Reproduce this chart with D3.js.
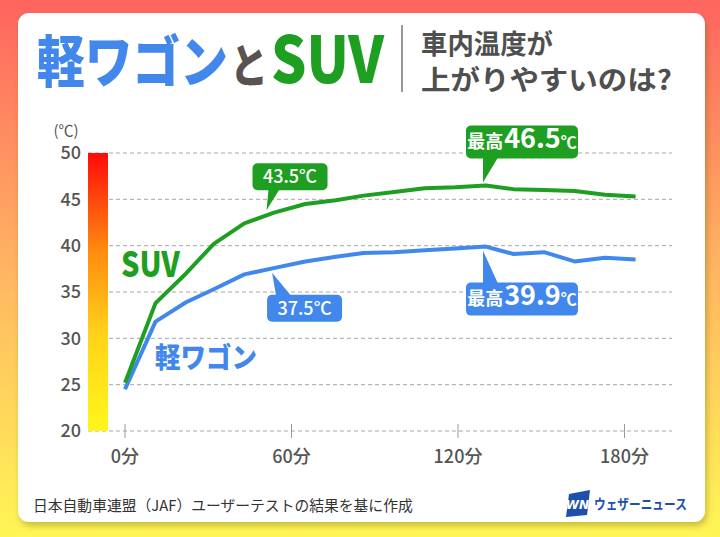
<!DOCTYPE html>
<html><head><meta charset="utf-8">
<script src="https://cdn.jsdelivr.net/npm/d3@7"></script>
<style>
html,body{margin:0;padding:0;}
svg{display:block;font-family:"Noto Sans CJK JP","Noto Sans",sans-serif;}
</style></head>
<body>
<svg id="chart" width="720" height="537"></svg>
<script>
// ---- data ----
const times = [0, 11, 22, 32, 43, 54, 65, 76, 86, 97, 108, 119, 130, 140, 151, 162, 173, 184];
const suv   = [25.2, 33.8, 37.0, 40.2, 42.4, 43.6, 44.5, 44.9, 45.4, 45.8, 46.2, 46.3, 46.5, 46.1, 46.0, 45.9, 45.5, 45.3];
const kei   = [24.5, 31.8, 33.9, 35.3, 36.9, 37.6, 38.3, 38.8, 39.2, 39.3, 39.5, 39.7, 39.9, 39.1, 39.3, 38.3, 38.7, 38.5];
const yTicks = [20, 25, 30, 35, 40, 45, 50];
const xTicks = [0, 60, 120, 180];
const xTickLabels = ["0分", "60分", "120分", "180分"];
const seriesNames = ["SUV", "軽ワゴン"];
const annotations = [
  {series: "suv", t: 51, v: 43.5, pre: "", num: "43.5℃", max: false},
  {series: "suv", t: 129, v: 46.5, pre: "最高", num: "46.5", max: true},
  {series: "kei", t: 53, v: 37.5, pre: "", num: "37.5℃", max: false},
  {series: "kei", t: 129, v: 39.9, pre: "最高", num: "39.9", max: true}
];

const GREEN = "#1f9f21", BLUE = "#4288ec", GRAY = "#4f4f4f";

const svg = d3.select("#chart");
const defs = svg.append("defs");

// background gradient
const bg = defs.append("linearGradient").attr("id","bg").attr("x1",0).attr("y1",0).attr("x2",0).attr("y2",1);
bg.append("stop").attr("offset","0%").attr("stop-color","#ff645f");
bg.append("stop").attr("offset","50%").attr("stop-color","#ffb562");
bg.append("stop").attr("offset","100%").attr("stop-color","#fff655");
svg.append("rect").attr("width",720).attr("height",537).attr("fill","url(#bg)");

// card shadow
const f = defs.append("filter").attr("id","sh").attr("x","-5%").attr("y","-5%").attr("width","110%").attr("height","115%");
f.append("feDropShadow").attr("dx",2).attr("dy",4).attr("stdDeviation",3).attr("flood-color","#6b5a00").attr("flood-opacity",0.35);
svg.append("rect").attr("x",18).attr("y",13).attr("width",687).attr("height",509).attr("rx",11)
  .attr("fill","#fff").attr("filter","url(#sh)");

// text fitted horizontally with a scale transform
function fitText(x, y, txt, size, len, fill, weight) {
  const t = svg.append("text").attr("x",0).attr("y",0).text(txt)
    .attr("font-size",size).attr("font-weight",weight||700).attr("fill",fill);
  const w = t.node().getComputedTextLength() || len;
  t.attr("transform",`translate(${x},${y}) scale(${len / w},1)`);
  return t;
}
fitText(37, 82, "軽ワゴン", 56, 191, BLUE, 900);
fitText(230, 82, "と", 46, 38, "#5a5250", 900);
fitText(271, 83, "SUV", 65, 113, GREEN, 900);
svg.append("line").attr("x1",402).attr("x2",402).attr("y1",25).attr("y2",92).attr("stroke","#777").attr("stroke-width",1.5);
fitText(421, 54, "車内温度が", 27, 132, GRAY, 700);
fitText(421, 90, "上がりやすいのは?", 27, 251, GRAY, 700);

// scales
const x = d3.scaleLinear().domain([0,180]).range([125, 624.5]);
const y = d3.scaleLinear().domain([20,50]).range([431, 153]);

// color bar
const cb = defs.append("linearGradient").attr("id","cb").attr("x1",0).attr("y1",0).attr("x2",0).attr("y2",1);
cb.append("stop").attr("offset","0%").attr("stop-color","#ff0a0a");
cb.append("stop").attr("offset","35%").attr("stop-color","#ff8a10");
cb.append("stop").attr("offset","65%").attr("stop-color","#ffd21a");
cb.append("stop").attr("offset","100%").attr("stop-color","#fff61a");

// grid
svg.append("g").selectAll("line").data(yTicks).join("line")
  .attr("x1",88).attr("x2",672).attr("y1",d=>y(d)).attr("y2",d=>y(d))
  .attr("stroke","#a8a8a8").attr("stroke-width",1).attr("stroke-dasharray","4,3");

svg.append("rect").attr("x",88).attr("y",y(50)).attr("width",20).attr("height",y(20)-y(50)).attr("fill","url(#cb)");

// y labels
svg.append("g").selectAll("text").data(yTicks).join("text")
  .attr("x",81).attr("y",d=>y(d)).attr("dy","0.36em").attr("text-anchor","end")
  .attr("font-size",18).attr("font-weight",500).attr("fill","#555").text(d=>d);
svg.append("text").attr("x",66).attr("y",136).attr("text-anchor","middle").attr("font-size",15).attr("fill","#555").text("(℃)");

// x ticks
svg.append("g").selectAll("line").data(xTicks).join("line")
  .attr("x1",d=>x(d)).attr("x2",d=>x(d)).attr("y1",424).attr("y2",438)
  .attr("stroke","#999").attr("stroke-width",1);
svg.append("g").selectAll("text").data(xTicks).join("text")
  .attr("x",d=>x(d)).attr("y",463).attr("text-anchor","middle")
  .attr("font-size",18).attr("font-weight",500).attr("fill","#555").text((d,i)=>xTickLabels[i]);

// lines
const line = d3.line().x(d=>x(d[0])).y(d=>y(d[1]));
svg.append("path").datum(times.map((t,i)=>[t,kei[i]])).attr("d",line)
  .attr("fill","none").attr("stroke",BLUE).attr("stroke-width",4).attr("stroke-linejoin","round");
svg.append("path").datum(times.map((t,i)=>[t,suv[i]])).attr("d",line)
  .attr("fill","none").attr("stroke",GREEN).attr("stroke-width",4).attr("stroke-linejoin","round");

// series labels
fitText(121, 277, seriesNames[0], 35, 59, GREEN, 900);
fitText(155, 368, seriesNames[1], 28, 102, BLUE, 900);

// callouts
annotations.forEach(a => {
  const col = a.series === "suv" ? GREEN : BLUE;
  const above = a.series === "suv";
  const tx = x(a.t), ty = y(a.v) + (above ? -3 : 4);
  let bw, bh, bx, by, base;
  if (a.max) {
    bw = 112; bh = 33; bx = tx - 17;
    by = above ? ty - 24 - bh : ty + 32;
    base = [tx, tx + 15];
  } else {
    bw = 75; bh = 27;
    if (above) { bx = tx - 14; by = ty - 20 - bh; base = [tx + 2, tx + 13]; }
    else { bx = tx - 5; by = ty + 22; base = [tx + 4, tx + 19]; }
  }
  const g = svg.append("g");
  g.append("rect").attr("x",bx).attr("y",by).attr("width",bw).attr("height",bh).attr("rx",5).attr("fill",col);
  const baseY = above ? by + bh - 1 : by + 1;
  g.append("path").attr("d",`M${tx},${ty}L${base[0]},${baseY}L${base[1]},${baseY}Z`).attr("fill",col);
  if (a.max) {
    const t = g.append("text").attr("x",bx + bw/2).attr("y",by + bh/2).attr("dy","0.36em")
      .attr("text-anchor","middle").attr("fill","#fff").attr("font-weight",700);
    t.append("tspan").attr("font-size",18).text(a.pre);
    t.append("tspan").attr("font-size",27).attr("dx",1).text(a.num);
    t.append("tspan").attr("font-size",16).text("℃");
  } else {
    g.append("text").attr("x",bx + bw/2).attr("y",by + bh/2).attr("dy","0.36em")
      .attr("text-anchor","middle").attr("fill","#fff").attr("font-size",18).attr("font-weight",500).text(a.num);
  }
});

// footer
fitText(33, 511, "日本自動車連盟（JAF）ユーザーテストの結果を基に作成", 15, 380, "#333", 400);

// logo
const lg = svg.append("g");
lg.append("path").attr("d","M569,494L590,490L587,515L566,517Z").attr("fill","#1d4fae");
lg.append("text").attr("x",577.5).attr("y",509).attr("text-anchor","middle").attr("font-size",12)
  .attr("font-weight",900).attr("font-style","italic").attr("fill","#fff").attr("font-family","'DejaVu Sans'").text("WN");
fitText(594, 509, "ウェザーニュース", 14, 93, "#1d4fae", 700);
</script>
</body></html>
